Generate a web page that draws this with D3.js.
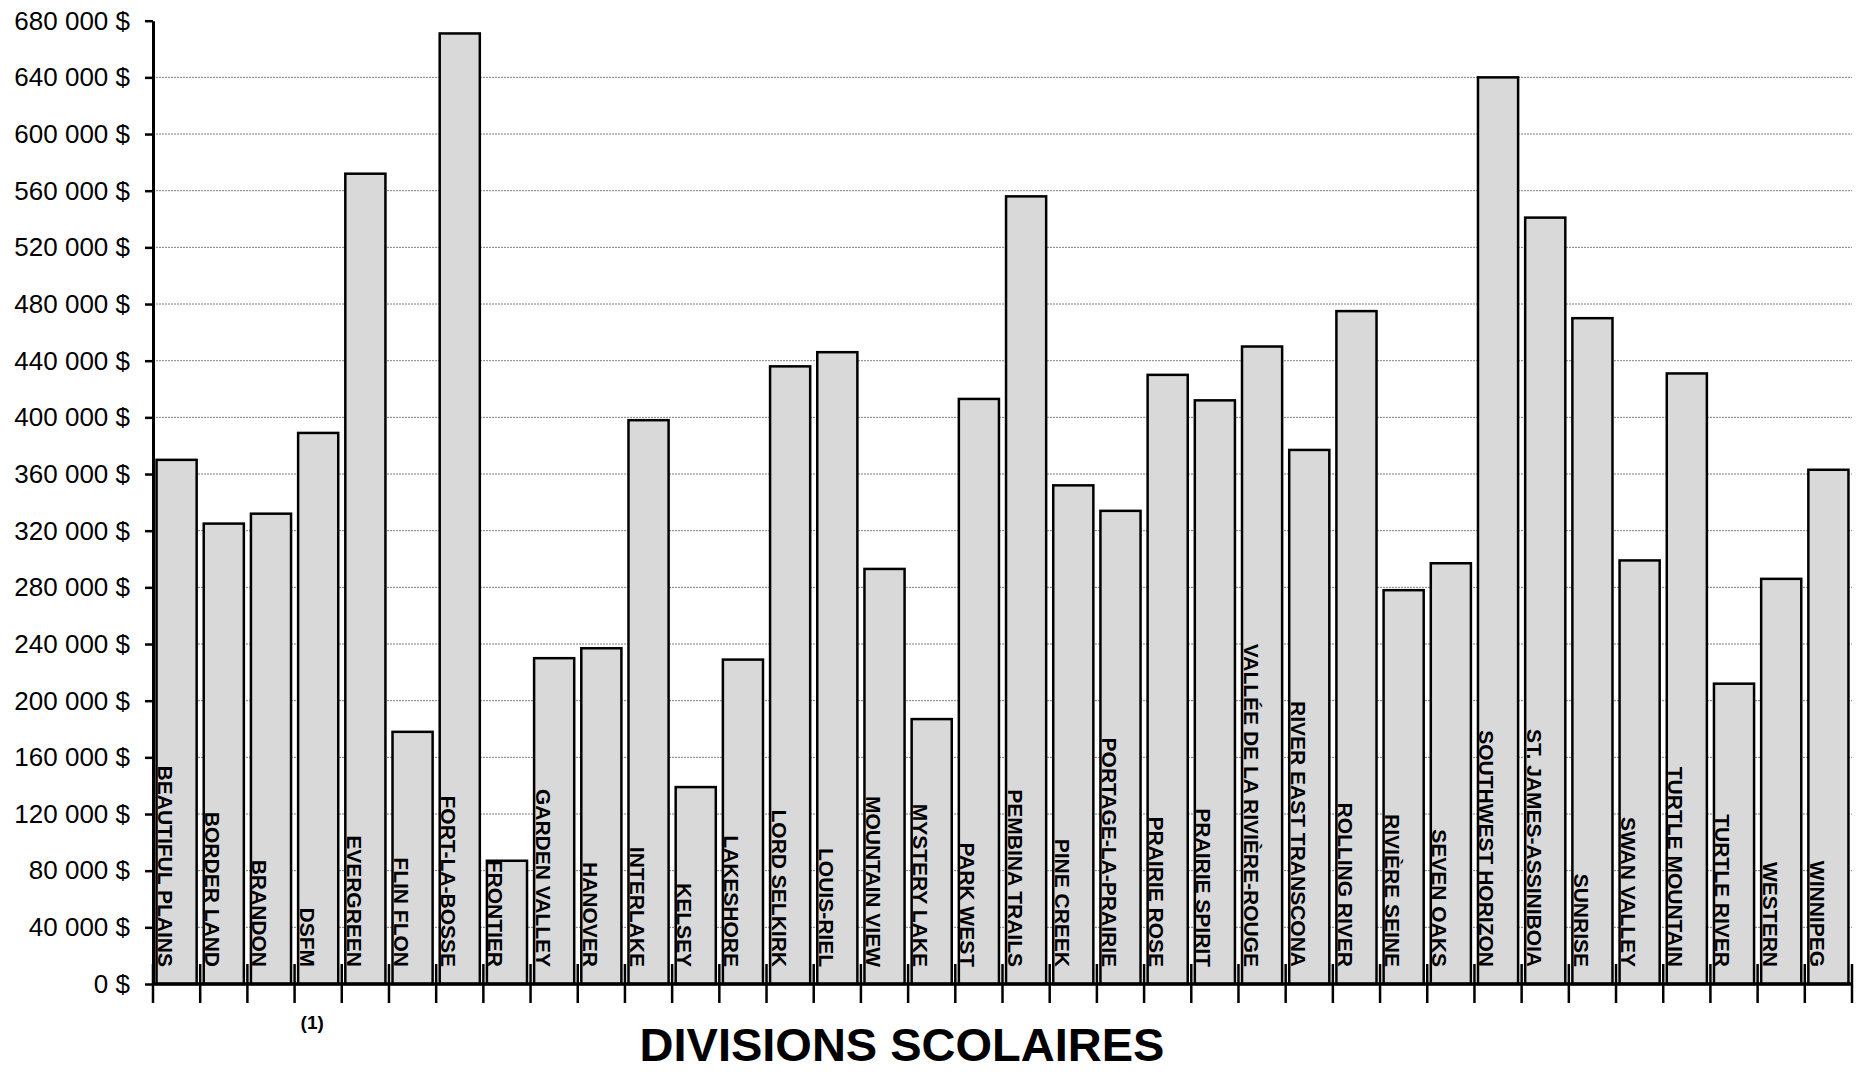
<!DOCTYPE html>
<html>
<head>
<meta charset="utf-8">
<script src="https://cdn.jsdelivr.net/npm/d3@7"></script>
<style>
  body { margin: 0; background: #fff; }
  svg { display: block; }
</style>
</head>
<body>
<div id="chart"></div>
<script>
var categories = ["BEAUTIFUL PLAINS", "BORDER LAND", "BRANDON", "DSFM", "EVERGREEN",
    "FLIN FLON", "FORT-LA-BOSSE", "FRONTIER", "GARDEN VALLEY", "HANOVER", "INTERLAKE",
    "KELSEY", "LAKESHORE", "LORD SELKIRK", "LOUIS-RIEL", "MOUNTAIN VIEW", "MYSTERY LAKE",
    "PARK WEST", "PEMBINA TRAILS", "PINE CREEK", "PORTAGE-LA-PRAIRIE", "PRAIRIE ROSE",
    "PRAIRIE SPIRIT", "VALLÉE DE LA RIVIÈRE-ROUGE", "RIVER EAST TRANSCONA", "ROLLING RIVER",
    "RIVIÈRE SEINE", "SEVEN OAKS", "SOUTHWEST HORIZON", "ST. JAMES-ASSINIBOIA", "SUNRISE",
    "SWAN VALLEY", "TURTLE MOUNTAIN", "TURTLE RIVER", "WESTERN", "WINNIPEG"];

var values = [370000, 325000, 332000, 389000, 572000,
    178000, 671000, 87000, 230000, 237000, 398000,
    139000, 229000, 436000, 446000, 293000, 187000,
    413000, 556000, 352000, 334000, 430000,
    412000, 450000, 377000, 475000,
    278000, 297000, 640000, 541000, 470000,
    299000, 431000, 212000, 286000, 363000];

var yTicks = [0, 40000, 80000, 120000, 160000, 200000, 240000, 280000, 320000,
    360000, 400000, 440000, 480000, 520000, 560000, 600000, 640000, 680000];

var footnoteCat = "DSFM",
    footnoteText = "(1)",
    axisTitle = "DIVISIONS SCOLAIRES";

var width = 1856,
    height = 1072,
    plotLeft = 153,
    plotRight = 1852,
    plotTop = 20.7,
    plotBottom = 984;

var svg = d3.select("#chart").append("svg")
    .attr("width", width)
    .attr("height", height)
    .style("font-family", "'Liberation Sans', Arial, sans-serif");

var x = d3.scaleBand()
    .domain(categories)
    .range([plotLeft, plotRight])
    .paddingInner(0.15)
    .paddingOuter(0.075);

var y = d3.scaleLinear()
    .domain([0, 680000])
    .range([plotBottom, plotTop]);

// gridlines
svg.append("g")
    .selectAll("line")
    .data(yTicks.filter(function(d) { return d > 0 && d < 680000; }))
    .join("line")
    .attr("x1", plotLeft)
    .attr("x2", plotRight)
    .attr("y1", function(d) { return y(d); })
    .attr("y2", function(d) { return y(d); })
    .attr("stroke", "#7f7f7f")
    .attr("stroke-width", 1)
    .attr("stroke-dasharray", "2,1");

// bars
svg.append("g")
    .selectAll("rect")
    .data(categories)
    .join("rect")
    .attr("x", function(d) { return x(d); })
    .attr("y", function(d, i) { return y(values[i]); })
    .attr("width", x.bandwidth())
    .attr("height", function(d, i) { return y(0) - y(values[i]); })
    .attr("fill", "#d9d9d9")
    .attr("stroke", "#000")
    .attr("stroke-width", 2.5);

// category labels inside bars
svg.append("g")
    .selectAll("text")
    .data(categories)
    .join("text")
    .attr("transform", function(d) { return "translate(" + (x(d) + 1.5) + ",967) rotate(90)"; })
    .attr("text-anchor", "end")
    .attr("font-size", 21)
    .attr("font-weight", "bold")
    .attr("fill", "#000")
    .text(function(d) { return d; });

// y axis
var fmt = d3.format(",");
var yAxis = svg.append("g")
    .attr("transform", "translate(" + plotLeft + ",0)")
    .call(d3.axisLeft(y)
        .tickValues(yTicks)
        .tickSize(8)
        .tickSizeOuter(0)
        .tickPadding(15)
        .tickFormat(function(d) { return fmt(d).replace(/,/g, " ") + " $"; }));
yAxis.select(".domain").attr("stroke-width", 3);
yAxis.selectAll(".tick line").attr("stroke-width", 2.5);
yAxis.selectAll(".tick text")
    .attr("font-size", 26)
    .attr("font-family", "'Liberation Sans', Arial, sans-serif")
    .attr("fill", "#000");

// x axis: line plus cross ticks at category boundaries
var half = x.step() * x.paddingInner() / 2;
var bounds = categories.map(function(d) { return x(d) - half; });
bounds.push(x(categories[categories.length - 1]) + x.bandwidth() + half);

var xAxis = svg.append("g");
xAxis.selectAll("line.tick")
    .data(bounds)
    .join("line")
    .attr("class", "tick")
    .attr("x1", function(d) { return d; })
    .attr("x2", function(d) { return d; })
    .attr("y1", plotBottom - 20)
    .attr("y2", plotBottom + 19)
    .attr("stroke", "#000")
    .attr("stroke-width", 2.5);
xAxis.append("line")
    .attr("x1", plotLeft)
    .attr("x2", plotRight)
    .attr("y1", plotBottom)
    .attr("y2", plotBottom)
    .attr("stroke", "#000")
    .attr("stroke-width", 3.5);

// footnote marker
svg.append("text")
    .attr("x", x(footnoteCat) + x.bandwidth() / 2 - 6)
    .attr("y", 1029)
    .attr("text-anchor", "middle")
    .attr("font-size", 19)
    .attr("font-weight", "bold")
    .text(footnoteText);

// axis title
svg.append("text")
    .attr("x", 902)
    .attr("y", 1061)
    .attr("text-anchor", "middle")
    .attr("font-size", 47)
    .attr("font-weight", "bold")
    .text(axisTitle);
</script>
</body>
</html>
